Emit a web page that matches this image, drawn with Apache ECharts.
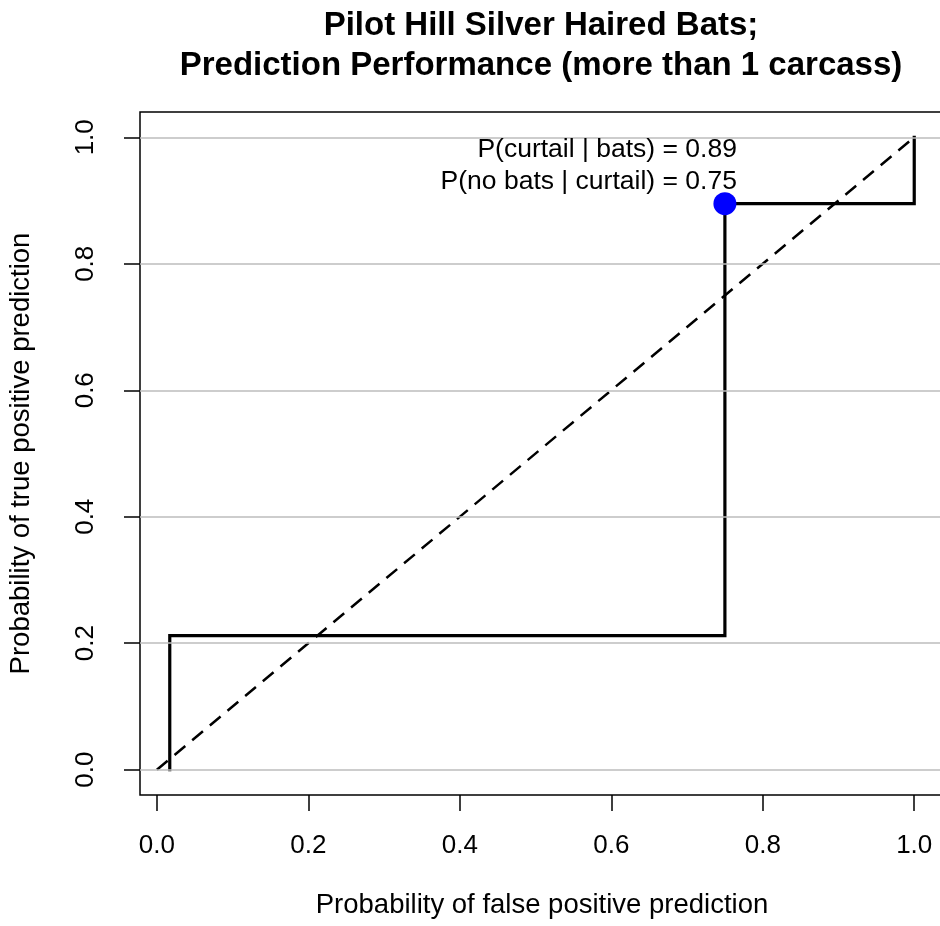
<!DOCTYPE html>
<html>
<head>
<meta charset="utf-8">
<script src="https://cdn.jsdelivr.net/npm/echarts@6/dist/echarts.min.js"></script>
<style>html,body{margin:0;padding:0;background:#fff;}#c{width:940px;height:926px;}</style>
</head>
<body>
<div id="c"></div>
<script>
// Data
const titleText = 'Pilot Hill Silver Haired Bats;\nPrediction Performance (more than 1 carcass)';
const xTitle = 'Probability of false positive prediction';
const yTitle = 'Probability of true positive prediction';
const tickValues = [0, 0.2, 0.4, 0.6, 0.8, 1.0];
// ROC step curve vertices (false positive rate, true positive rate)
const rocFpr = [0.017, 0.017, 0.75, 0.75, 1.0, 1.0];
const rocTpr = [0, 0.212, 0.212, 0.895, 0.895, 1.0];
// chance diagonal
const diagX = [0, 1];
const diagY = [0, 1];
// selected operating point
const pointFpr = 0.75;
const pointTpr = 0.895;
const annotation = ['P(curtail | bats) = 0.89', 'P(no bats | curtail) = 0.75'];

const FONT = '"Liberation Sans", Arial, sans-serif';
const chart = echarts.init(document.getElementById('c'), null, {renderer: 'canvas'});

const option = {
  backgroundColor: '#ffffff',
  animation: false,
  title: {
    text: titleText,
    left: 541,
    top: 6,
    padding: 0,
    textAlign: 'center',
    textStyle: {fontFamily: FONT, fontSize: 33, fontWeight: 'bold', color: '#000', lineHeight: 40}
  },
  grid: {
    left: 140, top: 112, width: 804, height: 683,
    show: true, borderColor: '#000', borderWidth: 1.5, backgroundColor: 'transparent',
    containLabel: false,
    outerBoundsMode: 'none'
  },
  xAxis: {
    type: 'value', min: -0.0223, max: 1.0393,
    name: xTitle, nameLocation: 'middle', nameGap: 96,
    nameTextStyle: {fontFamily: FONT, fontSize: 27.5, color: '#000'},
    axisLine: {show: false, onZero: false},
    axisTick: {show: true, inside: false, length: 16, customValues: tickValues, lineStyle: {color: '#000', width: 1.5}},
    axisLabel: {show: true, margin: 38, customValues: tickValues, fontFamily: FONT, fontSize: 26, color: '#000',
      formatter: v => v.toFixed(1)},
    splitLine: {show: false}
  },
  yAxis: {
    type: 'value', min: -0.04, max: 1.04,
    name: yTitle, nameLocation: 'middle', nameGap: 105, nameRotate: 90,
    nameTextStyle: {fontFamily: FONT, fontSize: 27.5, color: '#000'},
    axisLine: {show: false, onZero: false},
    axisTick: {show: true, inside: false, length: 16, customValues: tickValues, lineStyle: {color: '#000', width: 1.5}},
    axisLabel: {show: true, margin: 41, rotate: 90, customValues: tickValues, fontFamily: FONT, fontSize: 26, color: '#000',
      formatter: v => v.toFixed(1)},
    splitLine: {show: false}
  },
  series: [
    {
      name: 'grid', type: 'line', data: [], silent: true, z: 1,
      markLine: {
        silent: true, symbol: 'none', animation: false,
        label: {show: false},
        lineStyle: {color: '#bdbdbd', width: 1.5, type: 'solid'},
        data: tickValues.map(v => ({yAxis: v}))
      }
    },
    {
      name: 'diagonal', type: 'line', z: 3, symbol: 'none',
      data: diagX.map((x, i) => [x, diagY[i]]),
      lineStyle: {color: '#000', width: 2.5, type: [14, 9]}
    },
    {
      name: 'roc', type: 'line', z: 4, symbol: 'none',
      data: rocFpr.map((x, i) => [x, rocTpr[i]]),
      lineStyle: {color: '#000', width: 3.2, cap: 'square', join: 'miter'}
    },
    {
      name: 'point', type: 'scatter', z: 5, symbol: 'circle', symbolSize: 23,
      itemStyle: {color: '#0000ff', opacity: 1},
      data: [[pointFpr, pointTpr]],
      label: {
        show: true, position: [23.5, 5], align: 'right', verticalAlign: 'bottom',
        formatter: annotation.join('\n'),
        fontFamily: FONT, fontSize: 26.5, color: '#000', lineHeight: 32
      }
    }
  ]
};
chart.setOption(option);
</script>
</body>
</html>
